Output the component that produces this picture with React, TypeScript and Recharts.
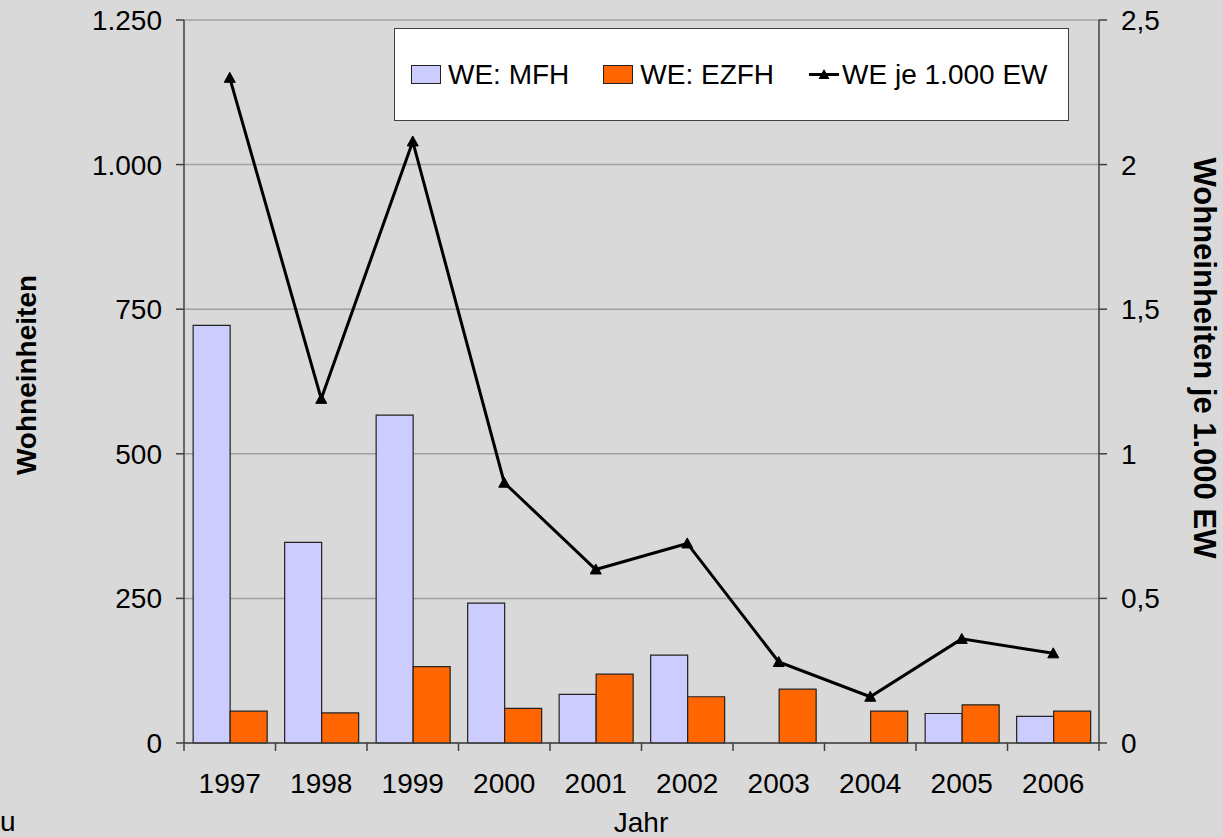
import React from 'react';
import { ComposedChart, Bar, Line, XAxis, YAxis, CartesianGrid, Legend } from 'recharts';

const years = ['1997', '1998', '1999', '2000', '2001', '2002', '2003', '2004', '2005', '2006'];
const weMFH = [722, 347, 567, 242, 84, 152, 0, 0, 51, 46];
const weEZFH = [55, 52, 132, 60, 119, 80, 93, 55, 66, 55];
const wePer1000 = [2.3, 1.19, 2.08, 0.9, 0.6, 0.69, 0.28, 0.16, 0.36, 0.31];
const leftTicks = [0, 250, 500, 750, 1000, 1250];
const rightTicks = [0, 0.5, 1, 1.5, 2, 2.5];

const seriesNames = ['WE: MFH', 'WE: EZFH', 'WE je 1.000 EW'];
const leftTitle = 'Wohneinheiten';
const rightTitle = 'Wohneinheiten je 1.000 EW';
const xTitle = 'Jahr';

const data = years.map((y, i) => ({ year: y, mfh: weMFH[i], ezfh: weEZFH[i], rate: wePer1000[i] }));

const W = 1223;
const H = 837;
const PLOT_LEFT = 184;
const PLOT_RIGHT = 1099;
const PLOT_TOP = 20;
const PLOT_BOTTOM = 743;
const BAND = (PLOT_RIGHT - PLOT_LEFT) / years.length;
const X_TICK_SIZE = 8;
const X_TICK_MARGIN = 22;

const FONT = '"Liberation Sans", Arial, sans-serif';
const BG = '#d9d9d9';
const AXIS = '#404040';
const GRID = '#a0a0a0';
const MFH_COLOR = '#ccccff';
const EZFH_COLOR = '#ff6600';

const fmtLeft = (v: number) =>
  v >= 1000 ? `${Math.floor(v / 1000)}.${String(v % 1000).padStart(3, '0')}` : String(v);
const fmtRight = (v: number) => String(v).replace('.', ',');

const XTick = (props: any) => {
  const { x, y, payload, index, visibleTicksCount } = props;
  const axisY = y - X_TICK_SIZE - X_TICK_MARGIN;
  const half = BAND / 2;
  const last = (visibleTicksCount ?? years.length) - 1;
  return (
    <g>
      <line x1={x - half} x2={x - half} y1={axisY} y2={axisY + X_TICK_SIZE} stroke={AXIS} strokeWidth={1.5} />
      {index === last && (
        <line x1={x + half} x2={x + half} y1={axisY} y2={axisY + X_TICK_SIZE} stroke={AXIS} strokeWidth={1.5} />
      )}
      <text x={x} y={y} dy="0.71em" textAnchor="middle" fill="#000" fontSize={28} fontFamily={FONT}>
        {payload.value}
      </text>
    </g>
  );
};

const Triangle = (props: any) => {
  const { cx, cy, index } = props;
  if (cx == null || cy == null) return <g key={`t${index}`} />;
  return (
    <path
      key={`t${index}`}
      d={`M${cx},${cy - 5.5} L${cx + 5.5},${cy + 4.5} L${cx - 5.5},${cy + 4.5} Z`}
      fill="#000"
      stroke="#000"
      strokeWidth={1}
    />
  );
};

const LegendContent = () => (
  <div
    style={{
      width: 675,
      height: 93,
      background: '#fff',
      border: `1.5px solid ${AXIS}`,
      boxSizing: 'border-box',
      display: 'flex',
      alignItems: 'center',
      paddingLeft: 16,
      fontFamily: FONT,
      fontSize: 28,
      color: '#000',
      whiteSpace: 'nowrap',
    }}
  >
    <span style={{ display: 'inline-block', width: 30, height: 19, background: MFH_COLOR, border: '1.5px solid #222', boxSizing: 'border-box', marginRight: 7 }} />
    <span style={{ marginRight: 34, lineHeight: 1 }}>{seriesNames[0]}</span>
    <span style={{ display: 'inline-block', width: 30, height: 19, background: EZFH_COLOR, border: '1.5px solid #222', boxSizing: 'border-box', marginRight: 7 }} />
    <span style={{ marginRight: 35, lineHeight: 1 }}>{seriesNames[1]}</span>
    <svg width={30} height={19} style={{ marginRight: 3 }}>
      <line x1={0} x2={30} y1={9.5} y2={9.5} stroke="#000" strokeWidth={3} />
      <path d="M15,4 L20.5,14 L9.5,14 Z" fill="#000" />
    </svg>
    <span style={{ lineHeight: 1 }}>{seriesNames[2]}</span>
  </div>
);

export default function App() {
  return (
    <div
      style={{
        position: 'absolute',
        left: 0,
        top: 0,
        width: W,
        height: H,
        background: BG,
        overflow: 'hidden',
        fontFamily: FONT,
      }}
    >
      <ComposedChart
        width={W}
        height={H}
        data={data}
        margin={{ top: PLOT_TOP, right: 0, bottom: 0, left: 0 }}
        barCategoryGap="10%"
        barGap={0}
      >
        <CartesianGrid yAxisId="left" vertical={false} stroke={GRID} strokeWidth={1.5} />
        <XAxis
          dataKey="year"
          xAxisId={0}
          height={H - PLOT_BOTTOM}
          tickLine={false}
          tickSize={X_TICK_SIZE}
          tickMargin={X_TICK_MARGIN}
          axisLine={{ stroke: AXIS, strokeWidth: 1.5 }}
          tick={<XTick />}
          interval={0}
        />
        <YAxis
          yAxisId="left"
          orientation="left"
          width={PLOT_LEFT}
          domain={[0, 1250]}
          ticks={leftTicks}
          tickFormatter={fmtLeft}
          tickSize={8}
          tickMargin={14}
          axisLine={{ stroke: AXIS, strokeWidth: 1.5 }}
          tickLine={{ stroke: AXIS, strokeWidth: 1.5 }}
          tick={{ fill: '#000', fontSize: 28, fontFamily: FONT }}
          interval={0}
        />
        <YAxis
          yAxisId="right"
          orientation="right"
          width={W - PLOT_RIGHT}
          domain={[0, 2.5]}
          ticks={rightTicks}
          tickFormatter={fmtRight}
          tickSize={8}
          tickMargin={14}
          axisLine={{ stroke: AXIS, strokeWidth: 1.5 }}
          tickLine={{ stroke: AXIS, strokeWidth: 1.5 }}
          tick={{ fill: '#000', fontSize: 28, fontFamily: FONT }}
          interval={0}
        />
        <Legend
          layout="vertical"
          align="center"
          verticalAlign="middle"
          content={<LegendContent />}
          wrapperStyle={{ left: 394, top: 28, width: 675, height: 93 }}
        />
        <Bar yAxisId="left" dataKey="mfh" name={seriesNames[0]} fill={MFH_COLOR} stroke="#222" strokeWidth={1.2} isAnimationActive={false} />
        <Bar yAxisId="left" dataKey="ezfh" name={seriesNames[1]} fill={EZFH_COLOR} stroke="#222" strokeWidth={1.2} isAnimationActive={false} />
        <Line
          yAxisId="right"
          type="linear"
          dataKey="rate"
          name={seriesNames[2]}
          stroke="#000"
          strokeWidth={3}
          dot={(p: any) => <Triangle {...p} />}
          activeDot={false}
          isAnimationActive={false}
        />
      </ComposedChart>
      <div
        style={{
          position: 'absolute',
          left: 27,
          top: 375,
          transform: 'translate(-50%, -50%) rotate(-90deg)',
          fontSize: 28,
          fontWeight: 'bold',
          whiteSpace: 'nowrap',
          lineHeight: 1,
          color: '#000',
        }}
      >
        {leftTitle}
      </div>
      <div
        style={{
          position: 'absolute',
          left: 1204,
          top: 358,
          transform: 'translate(-50%, -50%) rotate(90deg)',
          fontSize: 31,
          fontWeight: 'bold',
          whiteSpace: 'nowrap',
          lineHeight: 1,
          color: '#000',
        }}
      >
        {rightTitle}
      </div>
      <div
        style={{
          position: 'absolute',
          left: 641,
          top: 823,
          transform: 'translate(-50%, -50%)',
          fontSize: 28,
          whiteSpace: 'nowrap',
          lineHeight: 1,
          color: '#000',
        }}
      >
        {xTitle}
      </div>
      <div
        style={{
          position: 'absolute',
          left: 0,
          top: 808,
          fontSize: 28,
          whiteSpace: 'nowrap',
          lineHeight: 1,
          color: '#000',
        }}
      >
        u
      </div>
    </div>
  );
}
